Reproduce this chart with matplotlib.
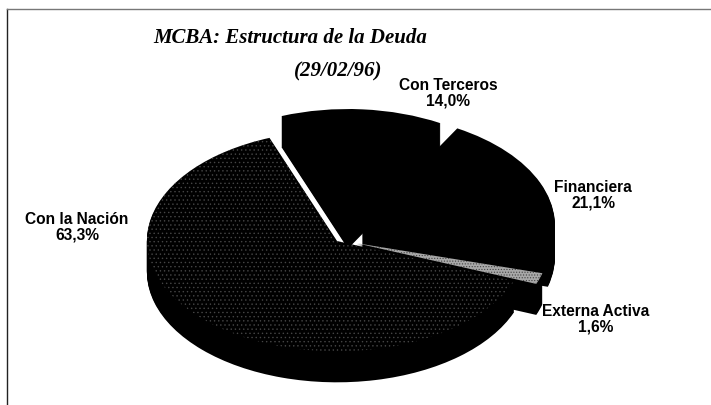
''' MCBA debt structure, 3D looking exploded pie '''
import matplotlib
matplotlib.use('Agg')
import matplotlib.pyplot as plt
from matplotlib.lines import Line2D

plt.rcParams['hatch.linewidth'] = 0.5

categories = ['Con la Nación', 'Externa Activa', 'Financiera', 'Con Terceros']
shares = [63.3, 1.6, 21.1, 14.0]
explode = [0, 0.09, 0.123, 0.2]
title_lines = ['MCBA: Estructura de la Deuda', '(29/02/96)']

rx, ry = 193, 112   # pie radii in pixels, squashes the circle
# hand tweaks per slice after the explode, in pixels
nudge = [(-3, -1), (0, 0), (0, 9), (5, 0)]
scale = [0.985, 1, 1, 0.97]


def px(x, y):
    ''' reference pixel position to figure fraction '''
    return x/711, 1 - y/405


def draw_pie(ax, colors, drop=0.0):
    ''' one layer of the pie, dropped down by some pixels '''
    wedges, _ = ax.pie(shares, explode=explode, startangle=110.8, counterclock=True,
                       center=(0, -drop/ry), colors=colors)
    for w, (dx, dy), s in zip(wedges, nudge, scale):
        cx, cy = w.center
        w.set_center((cx + dx/rx, cy + dy/ry))
        w.set_radius(s)
    return wedges


fig = plt.figure(figsize=(7.11, 4.05), dpi=100)
ax = fig.add_axes([0, 0, 1, 1])

# side walls first, stacked from the bottom up
for drop in range(31, 0, -1):
    draw_pie(ax, ['black']*4, drop)

# top faces
wedges = draw_pie(ax, ['black', '#a8a8a8', 'black', 'black'])
wedges[0].set(hatch='....', edgecolor='#454545', linewidth=0)
wedges[1].set(hatch='......', edgecolor='#444444', linewidth=0)

ax.set_aspect('auto')
ax.set_xlim(-340/rx, (711-340)/rx)
ax.set_ylim(-(405-240)/ry, 240/ry)
ax.axis('off')

# frame left from the scan
fig.add_artist(Line2D([7/711, 7/711], [1-9/405, 0], color='#222222', lw=1.0))
fig.add_artist(Line2D([7/711, 1], [1-9/405, 1-9/405], color='#777777', lw=1.0))

for line, (x, y) in zip(title_lines, [(290, 38), (338, 71)]):
    fx, fy = px(x, y)
    fig.text(fx, fy, line, family='Liberation Serif', style='italic', weight='bold',
             fontsize=15, ha='center', va='center', color='black')

label_pos = [(77, 227), (596, 319), (593, 195), (448, 93)]
for name, val, (x, y) in zip(categories, shares, label_pos):
    fx, fy = px(x, y)
    fig.text(fx, fy, f'{name}\n{val:.1f}%'.replace('.', ','), family='Liberation Sans',
             weight='bold', fontsize=11.2, ha='center', va='center', linespacing=1.05,
             color='black')

fig.savefig('out.png', dpi=100)
